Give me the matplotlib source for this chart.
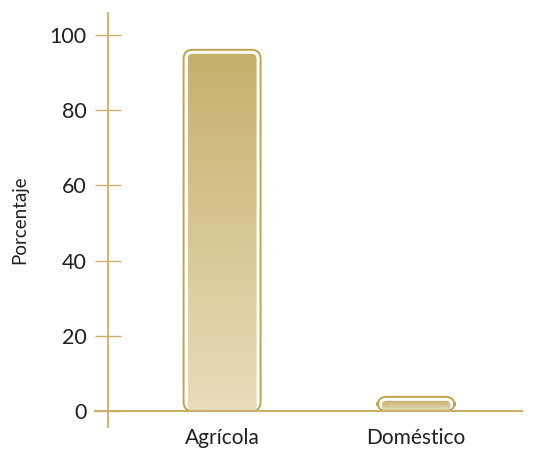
import numpy as np
import matplotlib
matplotlib.use("Agg")
import matplotlib.pyplot as plt
from matplotlib.patches import FancyBboxPatch
from matplotlib.lines import Line2D
from matplotlib.colors import LinearSegmentedColormap

# data
categories = ["Agrícola", "Doméstico"]
values = [95, 2.7]
yticks = [0, 20, 40, 60, 80, 100]

gold = "#C9B06A"
edge = "#BFA24E"
grad = LinearSegmentedColormap.from_list("g", ["#E8DCBA", "#C7AF6C"])

plt.rcParams["font.family"] = ["Lato", "DejaVu Sans"]

W, H = 537, 451
fig = plt.figure(figsize=(W / 100, H / 100), dpi=100)
ax = fig.add_axes([108 / W, 24 / H, 414 / W, 414 / H])

x0, x1 = -0.588, 1.546
y0, y1 = -4.26, 105.85
ax.set_xlim(x0, x1)
ax.set_ylim(y0, y1)

xpx = 414 / (x1 - x0)
ypx = 414 / (y1 - y0)
aspect = xpx / ypx

fill_w = 69 / xpx
out_w = 77 / xpx
pad_y = 4 / ypx

for i, v in enumerate(values):
    # outer outline
    ob = FancyBboxPatch((i - out_w / 2, 0), out_w, v + pad_y,
                        boxstyle="round,pad=0,rounding_size=%f" % (9 / xpx),
                        mutation_aspect=aspect, fc="white", ec=edge, lw=1.4, zorder=2)
    ax.add_patch(ob)
    # inner gradient fill
    ib = FancyBboxPatch((i - fill_w / 2, 0), fill_w, v,
                        boxstyle="round,pad=0,rounding_size=%f" % (5 / xpx),
                        mutation_aspect=aspect, fc="none", ec="none", zorder=3)
    ax.add_patch(ib)
    g = np.linspace(0, 1, 256).reshape(-1, 1)
    im = ax.imshow(g, cmap=grad, aspect="auto", origin="lower",
                   extent=(i - fill_w / 2, i + fill_w / 2, 0, v), zorder=3)
    im.set_clip_path(ib)

ax.set_xlim(x0, x1)
ax.set_ylim(y0, y1)

# spines
for s in ["top", "right", "bottom"]:
    ax.spines[s].set_visible(False)
ax.spines["left"].set_color(gold)
ax.spines["left"].set_linewidth(1.3)

# x axis line at zero, extended left of the y axis
ax.add_line(Line2D([x0 - 13 / xpx, x1], [0, 0], color=gold, lw=1.5,
                   clip_on=False, zorder=4))

ax.set_yticks(yticks)
ax.set_yticklabels([str(t) for t in yticks])
ax.tick_params(axis="y", direction="inout", length=19, width=1, color=gold,
               pad=6, labelsize=15.5, labelcolor="#231F20")
ax.set_xticks([0, 1])
ax.set_xticklabels(categories)
ax.tick_params(axis="x", length=0, pad=1, labelsize=15, labelcolor="#231F20")

ax.set_ylabel("Porcentaje", fontsize=13.5, color="#231F20", labelpad=15)

fig.savefig("out.png", dpi=100)
